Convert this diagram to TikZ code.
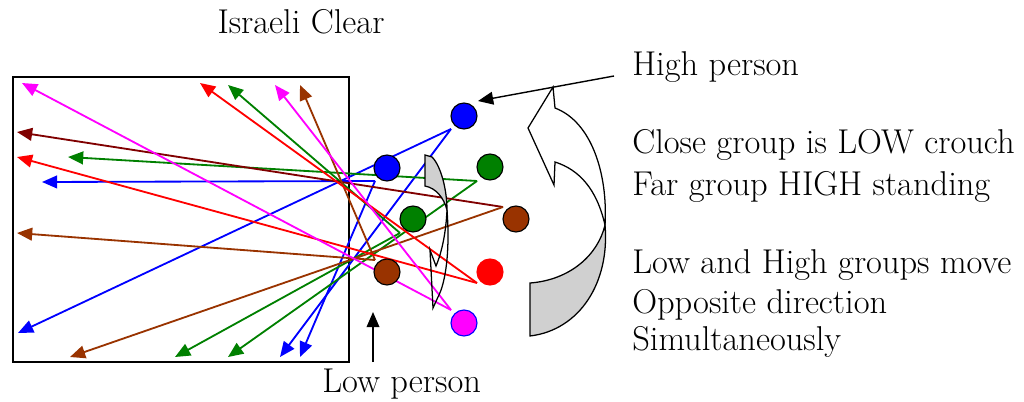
\documentclass[tikz,border=0pt]{standalone}
\usetikzlibrary{positioning, calc, arrows.meta}
\definecolor{pblue}{RGB}{0,0,255}
\definecolor{pgreen}{RGB}{0,128,0}
\definecolor{pbrown}{RGB}{153,51,0}
\definecolor{pmaroon}{RGB}{128,0,0}
\definecolor{pred}{RGB}{255,0,0}
\definecolor{pmagenta}{RGB}{255,0,255}
\definecolor{pshade}{RGB}{208,208,208}

\begin{document}
\begin{tikzpicture}[x=0.025cm, y=-0.025cm, >={Triangle[length=0.38cm, width=0.32cm]},
    person/.style={circle, draw=black, line width=0.8pt, minimum size=0.65cm, inner sep=0pt},
    fire/.style={->, line width=1.3pt},
    txt/.style={font=\fontsize{24.5}{30}\selectfont, inner sep=0pt}]

    \useasboundingbox (0,0) rectangle (1024,401);

    % --- Room ---
    \draw[line width=1.3pt] (13,77) rectangle (349,362);

    % --- Where each shooter stands (line origins) ---
    \coordinate (hb-v)  at (451,129);
    \coordinate (lb-v)  at (375,181);
    \coordinate (hg-v)  at (477,181);
    \coordinate (lg-v)  at (400,233);
    \coordinate (hbr-v) at (503,207);
    \coordinate (lbr-v) at (375,260);
    \coordinate (hr-v)  at (477,283);
    \coordinate (hm-v)  at (451,310);

    % --- Points covered inside the room ---
    \coordinate (t1)  at (18,333);
    \coordinate (t2)  at (280,357);
    \coordinate (t3)  at (42,182);
    \coordinate (t4)  at (300,357);
    \coordinate (t5)  at (68,157);
    \coordinate (t6)  at (228,357);
    \coordinate (t7)  at (228,85);
    \coordinate (t8)  at (175,357);
    \coordinate (t9)  at (17,132);
    \coordinate (t10) at (70,357);
    \coordinate (t11) at (300,85);
    \coordinate (t12) at (17,233);
    \coordinate (t13) at (200,83);
    \coordinate (t14) at (17,157);
    \coordinate (t15) at (22,83);
    \coordinate (t16) at (275,85);

    % --- Fields of fire ---
    \foreach \v/\t/\c in {hb-v/t1/pblue, hb-v/t2/pblue, lb-v/t3/pblue, lb-v/t4/pblue,
                          hg-v/t5/pgreen, hg-v/t6/pgreen, lg-v/t7/pgreen, lg-v/t8/pgreen,
                          hbr-v/t9/pmaroon, hbr-v/t10/pbrown, lbr-v/t11/pbrown, lbr-v/t12/pbrown,
                          hr-v/t13/pred, hr-v/t14/pred, hm-v/t15/pmagenta, hm-v/t16/pmagenta}
        \draw[fire, color=\c] (\v) -- (\t);

    % --- Persons ---
    \node[person, fill=pblue] (hb) at (464,116) {};
    \node[person, fill=pblue] (lb) at (387,168) {};
    \node[person, fill=pgreen] (hg) at (490,167) {};
    \node[person, fill=pgreen] (lg) at (413,219) {};
    \node[person, fill=pbrown] (hbr) at (516,219) {};
    \node[person, fill=pbrown] (lbr) at (387,272) {};
    \node[person, fill=pred, draw=pred] (hr) at (490,272) {};
    \node[person, fill=pmagenta, draw=pblue] (hm) at (464,323) {};

    % --- Small curved arrow (close group moves down) ---
    \draw[fill=pshade, line width=0.9pt] (425,155) -- (432,157)
        .. controls (441,166) and (447,190) .. (447,210)
        .. controls (444,198) and (436,188) .. (425,186) -- cycle;
    \draw[line width=0.9pt] (447,210)
        .. controls (450,250) and (446,282) .. (438,297) -- (433,308) -- (430,250) -- (436,266)
        .. controls (442,252) and (446,232) .. (447,210);

    % --- Big curved arrow (far group moves up) ---
    \draw[fill=white, line width=0.9pt] (553,87) -- (555,108)
        .. controls (592,122) and (608,175) .. (605,225)
        .. controls (597,190) and (580,170) .. (555,162) -- (554,185) -- (528,128) -- cycle;
    \draw[fill=pshade, line width=0.9pt] (605,225)
        .. controls (610,282) and (580,330) .. (530,336) -- (530,283)
        .. controls (570,280) and (598,255) .. (605,225) -- cycle;

    % --- Labels ---
    \node[txt, anchor=base] (title) at (301,33) {Israeli Clear};
    \node[txt, anchor=base west] (high) at (632,75) {High person};
    \node[txt, anchor=base west] (close) at (632,153) {Close group is LOW crouch};
    \node[txt, anchor=base west] (far) at (632,195) {Far group HIGH standing};
    \node[txt, anchor=base west] (move) at (632,273) {Low and High groups move};
    \node[txt, anchor=base west] (opp) at (632,313) {Opposite direction};
    \node[txt, anchor=base west] (sim) at (632,350) {Simultaneously};
    \node[txt, anchor=base west] (low) at (322,392) {Low person};

    % --- Pointers ---
    \coordinate (hp-a) at (614,76);
    \coordinate (hp-b) at (478,101);
    \coordinate (lp-a) at (373,362);
    \coordinate (lp-b) at (373,312);
    \draw[->, line width=1pt] (hp-a) -- (hp-b);
    \draw[->, line width=1pt] (lp-a) -- (lp-b);

\end{tikzpicture}
\end{document}
